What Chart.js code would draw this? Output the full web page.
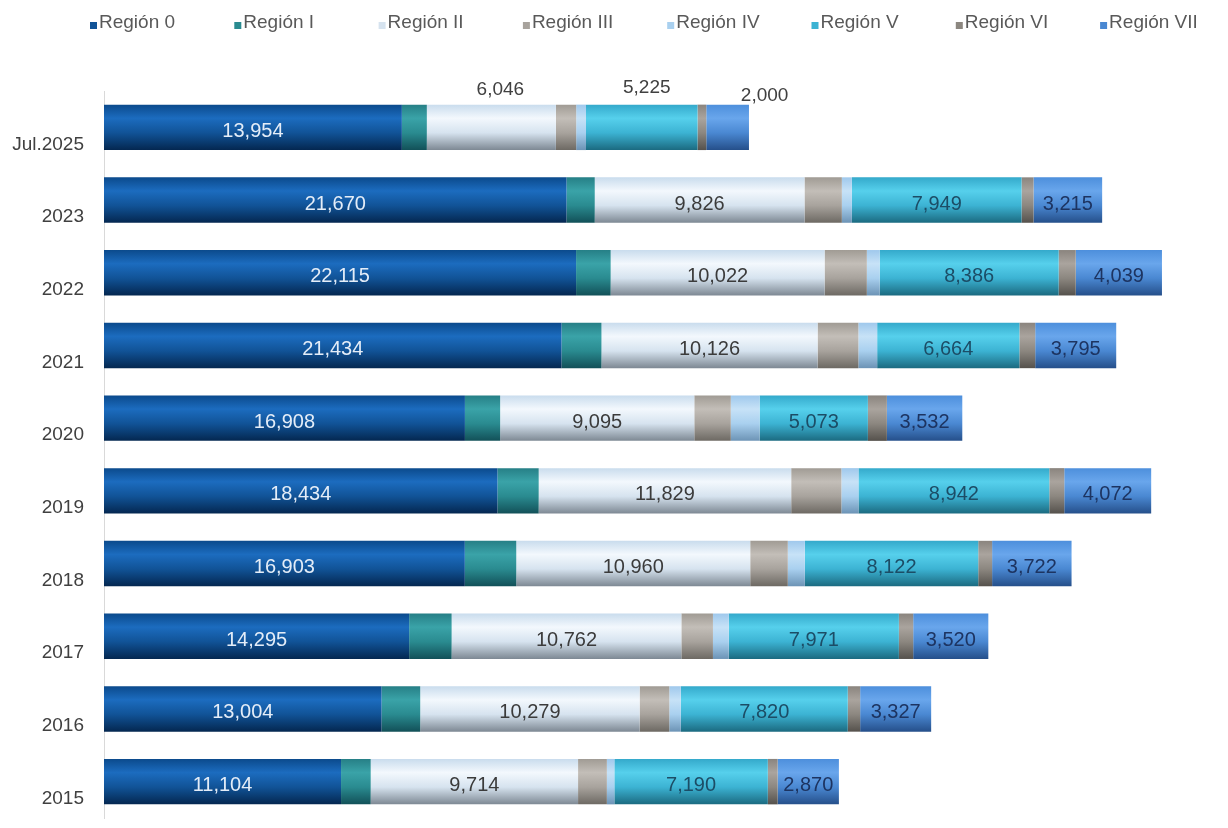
<!DOCTYPE html>
<html>
<head>
<meta charset="utf-8">
<script src="https://cdn.jsdelivr.net/npm/chart.js@4.4.1/dist/chart.umd.min.js"></script>
<style>
html, body { margin: 0; padding: 0; background: #fff; }
#wrap { width: 1228px; height: 828px; position: relative; }
</style>
</head>
<body>
<div id="wrap"><canvas id="barChart"></canvas></div>
<script>
// categories, top to bottom
var categories = ['Jul.2025', '2023', '2022', '2021', '2020', '2019', '2018', '2017', '2016', '2015'];
var regionNames = ['Región 0', 'Región I', 'Región II', 'Región III', 'Región IV', 'Región V', 'Región VI', 'Región VII'];

var region0 = [13954, 21670, 22115, 21434, 16908, 18434, 16903, 14295, 13004, 11104];
var region1 = [1170, 1320, 1620, 1870, 1650, 1930, 2410, 1990, 1810, 1390];
var region2 = [6046, 9826, 10022, 10126, 9095, 11829, 10960, 10762, 10279, 9714];
var region3 = [950, 1750, 1980, 1910, 1710, 2350, 1760, 1480, 1390, 1350];
var region4 = [460, 470, 600, 880, 1350, 800, 800, 740, 540, 350];
var region5 = [5225, 7949, 8386, 6664, 5073, 8942, 8122, 7971, 7820, 7190];
var region6 = [410, 560, 800, 740, 890, 700, 650, 670, 580, 460];
var region7 = [2000, 3215, 4039, 3795, 3532, 4072, 3722, 3520, 3327, 2870];

var series = [region0, region1, region2, region3, region4, region5, region6, region7];

// edge, highlight, middle, dark bottom
var shades = [
    ['#0b4a8c', '#1c6cbf', '#115397', '#042750'],
    ['#267f86', '#3aa3a8', '#2a8b90', '#125058'],
    ['#c9dced', '#f3f8fd', '#d6e3ef', '#7d8893'],
    ['#a09b94', '#c3beb8', '#a8a39d', '#6d6963'],
    ['#9fc8ec', '#c7e2f7', '#a9d0ef', '#6c93b5'],
    ['#34a9cb', '#56d0ec', '#3cb3d3', '#1b6a80'],
    ['#8a847e', '#aaa49e', '#8c8780', '#55514c'],
    ['#4d8fdc', '#69a6ec', '#4a88d2', '#254f8a']
];
var labelColors = {0: '#e4edf8', 2: '#3b3b3b', 5: '#1c4d66', 7: '#1d3461'};
// first row puts these labels above the bar: [dx from segment centre, dy from bar top]
var outsideShift = {2: [9, -15], 5: [5, -17], 7: [37, -9]};
var barPct = 0.625;
var font = '"Liberation Sans", Arial, sans-serif';

function fillFor(i) {
    return function (c) {
        var chart = c.chart, area = chart.chartArea, s = shades[i];
        if (!area || c.type !== 'data' || !chart.scales.y) return s[2];
        var y = chart.scales.y.getPixelForValue(c.dataIndex);
        var h = area.height / categories.length * barPct / 2;
        var g = chart.ctx.createLinearGradient(0, y - h, 0, y + h);
        g.addColorStop(0, s[0]);
        g.addColorStop(0.3, s[1]);
        g.addColorStop(0.62, s[2]);
        g.addColorStop(1, s[3]);
        return g;
    };
}

var valueLabels = {
    id: 'valueLabels',
    afterDatasetsDraw: function (chart) {
        var ctx = chart.ctx;
        ctx.save();
        ctx.textAlign = 'center';
        ctx.textBaseline = 'middle';
        Object.keys(labelColors).forEach(function (k) {
            var di = +k;
            var meta = chart.getDatasetMeta(di);
            meta.data.forEach(function (bar, idx) {
                var p = bar.getProps(['x', 'base', 'y', 'height'], true);
                var cx = (p.x + p.base) / 2, cy = p.y + 4;
                var txt = series[di][idx].toLocaleString('en-US');
                if (idx === 0 && outsideShift[di]) {
                    ctx.font = '19px ' + font;
                    ctx.fillStyle = '#404040';
                    ctx.fillText(txt, cx + outsideShift[di][0], p.y - p.height / 2 + outsideShift[di][1]);
                } else {
                    ctx.font = '20px ' + font;
                    ctx.fillStyle = labelColors[di];
                    ctx.fillText(txt, cx, cy);
                }
            });
        });
        ctx.restore();
    }
};

var legendRow = {
    id: 'legendRow',
    afterDraw: function (chart) {
        var ctx = chart.ctx;
        ctx.save();
        ctx.font = '19px ' + font;
        ctx.textBaseline = 'alphabetic';
        chart.data.datasets.forEach(function (ds, i) {
            var x = 90 + i * 144.3;
            ctx.fillStyle = shades[i][2];
            ctx.fillRect(x, 22, 7, 7);
            ctx.fillStyle = '#595959';
            ctx.fillText(ds.label, x + 9, 28);
        });
        ctx.restore();
    }
};

var datasets = series.map(function (vals, i) {
    return {
        label: regionNames[i],
        data: vals,
        backgroundColor: fillFor(i),
        borderWidth: 0,
        barPercentage: barPct,
        categoryPercentage: 1
    };
});

var barChart = new Chart(document.getElementById('barChart'), {
    type: 'bar',
    data: { labels: categories, datasets: datasets },
    plugins: [valueLabels, legendRow],
    options: {
        indexAxis: 'y',
        responsive: true,
        maintainAspectRatio: false,
        animation: false,
        layout: { padding: { top: 91, bottom: 10, left: 0, right: 14 } },
        plugins: {
            legend: { display: false },
            tooltip: { enabled: false }
        },
        scales: {
            x: {
                stacked: true,
                min: 0,
                max: 52000,
                display: false
            },
            y: {
                stacked: true,
                grid: { display: false, drawTicks: false },
                border: { display: true, color: '#d9d9d9', width: 1 },
                ticks: {
                    color: '#404040',
                    font: { family: font, size: 19 },
                    padding: 20,
                    labelOffset: 17
                },
                afterFit: function (scale) {
                    scale.width = 104;
                    scale.paddingTop = 0;
                    scale.paddingBottom = 0;
                }
            }
        }
    }
});
</script>
</body>
</html>
